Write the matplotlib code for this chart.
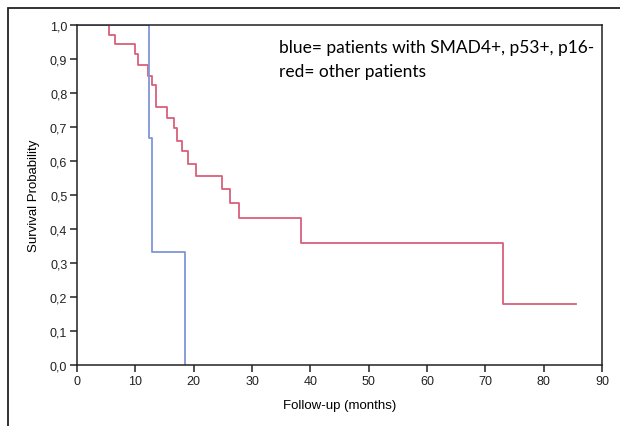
import matplotlib
matplotlib.use("Agg")
import matplotlib.pyplot as plt
from matplotlib.patches import Rectangle

# Red curve (other patients): event times (months) and survival after each step
red_times = [0, 5.5, 6.5, 10.0, 10.5, 12.1, 12.8, 13.5, 15.4, 16.7, 17.1, 18.0, 19.1, 20.4, 24.9, 26.2, 27.7, 38.4, 73.1, 85.5]
red_surv = [1.0, 0.972, 0.944, 0.915, 0.882, 0.85, 0.824, 0.76, 0.726, 0.697, 0.66, 0.63, 0.59, 0.555, 0.518, 0.476, 0.431, 0.36, 0.18, 0.18]

# Blue curve (SMAD4+, p53+, p16-)
blue_times = [0, 12.4, 12.9, 18.5, 18.5]
blue_surv = [1.0, 0.667, 0.333, 0.0, 0.0]

x_ticks = [0, 10, 20, 30, 40, 50, 60, 70, 80, 90]
y_ticks = [0.0, 0.1, 0.2, 0.3, 0.4, 0.5, 0.6, 0.7, 0.8, 0.9, 1.0]
y_tick_labels = ["0,0", "0,1", "0,2", "0,3", "0,4", "0,5", "0,6", "0,7", "0,8", "0,9", "1,0"]

plt.rcParams['font.family'] = ['Liberation Sans', 'DejaVu Sans']

fig = plt.figure(figsize=(6.2, 4.27), dpi=100)
fig.patch.set_facecolor('white')

# outer frame (left and top visible)
fig.patches.append(Rectangle((8 / 620, -0.1), 1.2, 1 - 9 / 427 + 0.1,
                             transform=fig.transFigure, fill=False,
                             edgecolor='#222222', linewidth=1.3))

ax = fig.add_axes([77 / 620, 1 - 366 / 427, (602 - 77) / 620, (366 - 26) / 427])

ax.step(red_times, red_surv, where='post', color='#d95f7c', linewidth=1.3)
ax.step(blue_times, blue_surv, where='post', color='#7f95d8', linewidth=1.3)

ax.set_xlim(0, 90)
ax.set_ylim(0, 1.0)
ax.set_xticks(x_ticks)
ax.set_xticklabels([str(v) for v in x_ticks])
ax.set_yticks(y_ticks)
ax.set_yticklabels(y_tick_labels)
ax.tick_params(direction='out', length=5, width=1.1, labelsize=9, colors='#222222', pad=2)
for s in ax.spines.values():
    s.set_linewidth(1.1)
    s.set_color('#222222')

ax.set_xlabel("Follow-up (months)", fontsize=9.5, labelpad=9)
ax.set_ylabel("Survival Probability", fontsize=9.5, labelpad=7)

ax.text(0.385, 0.935, "blue= patients with SMAD4+, p53+, p16-", transform=ax.transAxes,
        fontsize=12.5, family=['Lato', 'DejaVu Sans'], va='center', ha='left')
ax.text(0.385, 0.865, "red= other patients", transform=ax.transAxes,
        fontsize=12.5, family=['Lato', 'DejaVu Sans'], va='center', ha='left')

fig.savefig("out.png", dpi=100, facecolor='white')
